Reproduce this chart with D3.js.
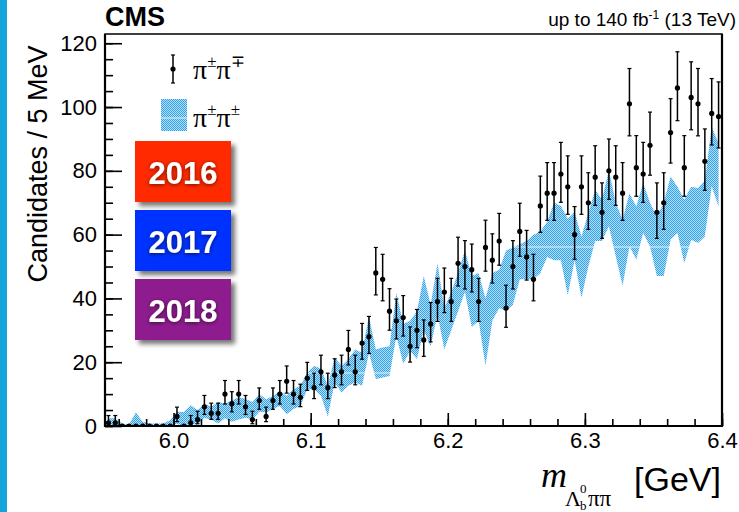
<!DOCTYPE html>
<html>
<head>
<meta charset="utf-8">
<script src="https://cdn.jsdelivr.net/npm/d3@7"></script>
<style>
  html, body { margin: 0; padding: 0; background: #fff; }
  svg { display: block; }
  .tick text { font-family: "Liberation Sans", Arial, Helvetica, sans-serif; font-size: 22px; fill: #000; }
</style>
</head>
<body>
<svg id="chart" width="739" height="512"></svg>
<script>
// histogram bins: 5 MeV wide from 5.95 to 6.40 GeV
const binStart = 5.95;
const binWidth = 0.005;

// opposite-sign (pi+- pi-+) candidates per bin
const countsOS = [
  1, 1, 0, 0, 0, 0, 0, 0, 0, 0,
  3, 0, 1, 2, 6, 4, 4, 10, 7, 10,
  6, 2, 8, 3, 8, 10, 14, 10, 9, 15,
  12, 17, 12, 16, 17, 24, 17, 26, 28, 48,
  46, 36, 33, 34, 25, 30, 27, 32, 39, 42,
  39, 51, 50, 49, 39, 56, 52, 58, 37, 50,
  61, 53, 46, 69, 73, 73, 79, 75, 60, 75,
  70, 78, 67, 80, 78, 73, 101, 81, 79, 88,
  67, 70, 92, 106, 81, 103, 101, 83, 98, 97
];

// same-sign (pi+- pi+-) band, upper and lower edge per bin
const bandUpper = [
  2.4, 2.4, 0.8, 0.5, 4.2, 1.3, 0.8, 0.8, 0.8, 1.9,
  4.5, 4.4, 6.5, 5, 7, 6, 7.5, 7, 8, 9,
  8.5, 7.5, 10, 8.4, 9.4, 11, 9.4, 11.5, 12.6, 16.7,
  18.8, 18, 12.6, 21.5, 18.8, 21, 24, 23, 34.5, 24,
  24.6, 25, 41.8, 32, 33, 36, 47, 38, 51, 37,
  42, 48, 55, 47, 48, 40, 48, 49, 55, 56,
  57, 58, 60, 61, 64, 70, 69, 65, 67, 59.4,
  66.8, 74, 71, 80.3, 70, 64.7, 73, 68.8, 76.2, 70,
  65.8, 70, 78.2, 75, 71, 75, 74.6, 77, 93.8, 88.6
];
const bandLower = [
  0, 0, 0, 0, 0, 0, 0, 0, 0, 0,
  0.6, 0, 0.8, 0.3, 2.5, 2, 0.8, 2.4, 1.3, 2,
  2.6, 2, 4.5, 4.2, 5.3, 6.3, 3.7, 5.3, 6.3, 11.5,
  11.5, 9.5, 3, 13.6, 10.5, 12.6, 13.6, 12.6, 23, 14.7,
  15.2, 15.7, 28.2, 19.5, 23.5, 21, 30, 25, 35, 24,
  30, 36, 42, 31, 33, 19, 33, 37, 36, 38,
  46, 46, 46, 48, 53, 52, 52, 41, 52, 40.2,
  50, 58, 58, 62.6, 53.2, 44, 56.3, 52.2, 60.5, 56.3,
  47, 47, 58.4, 60.5, 51.1, 58.4, 57.4, 59.5, 75.2, 68.8
];

const xMajorTicks = [6.0, 6.1, 6.2, 6.3, 6.4];
const yMajorTicks = [0, 20, 40, 60, 80, 100, 120];
const years = ["2016", "2017", "2018"];
const yearColors = ["#ff2a00", "#0433ff", "#8f1f8f"];

const bins = countsOS.map((n, i) => ({
  m: binStart + (i + 0.5) * binWidth,
  n: n,
  hi: bandUpper[i],
  lo: bandLower[i]
}));

// asymmetric Poisson (Garwood) interval, Wilson-Hilferty approximation
const poissonLow = n => n === 0 ? 0 : n * Math.pow(1 - 1 / (9 * n) - 1 / (3 * Math.sqrt(n)), 3);
const poissonHigh = n => (n + 1) * Math.pow(1 - 1 / (9 * (n + 1)) + 1 / (3 * Math.sqrt(n + 1)), 3);

const svg = d3.select("#chart");
const plot = { left: 105, right: 722, top: 34, bottom: 426 };

const xScale = d3.scaleLinear().domain([5.95, 6.4]).range([plot.left, plot.right]);
const yScale = d3.scaleLinear().domain([0, 122.9]).range([plot.bottom, plot.top]);

const sans = '"Liberation Sans", Arial, Helvetica, sans-serif';
const serif = '"Liberation Serif", "Times New Roman", "DejaVu Serif", serif';

// side stripe
svg.append("rect").attr("x", 0).attr("y", 0).attr("width", 7).attr("height", 512).attr("fill", "#12a4da");

const defs = svg.append("defs");
const pat = defs.append("pattern")
  .attr("id", "bandFill").attr("width", 2).attr("height", 2)
  .attr("patternUnits", "userSpaceOnUse");
pat.append("rect").attr("width", 2).attr("height", 2).attr("fill", "#b3dff9");
pat.append("rect").attr("x", 0).attr("y", 0).attr("width", 1).attr("height", 1).attr("fill", "#34a2ea");
pat.append("rect").attr("x", 1).attr("y", 1).attr("width", 1).attr("height", 1).attr("fill", "#34a2ea");

defs.append("clipPath").attr("id", "plotClip")
  .append("rect")
  .attr("x", plot.left).attr("y", plot.top)
  .attr("width", plot.right - plot.left).attr("height", plot.bottom - plot.top);

const boxShadow = defs.append("filter").attr("id", "boxShadow")
  .attr("x", "-20%").attr("y", "-20%").attr("width", "150%").attr("height", "150%");
boxShadow.append("feDropShadow").attr("dx", 4).attr("dy", 4).attr("stdDeviation", 2.5)
  .attr("flood-color", "#000").attr("flood-opacity", 0.55);

const textShadow = defs.append("filter").attr("id", "textShadow")
  .attr("x", "-20%").attr("y", "-30%").attr("width", "140%").attr("height", "160%");
textShadow.append("feDropShadow").attr("dx", 0).attr("dy", 1).attr("stdDeviation", 2)
  .attr("flood-color", "#000").attr("flood-opacity", 0.6);

// same-sign band
const bandArea = d3.area()
  .x(d => xScale(d.m))
  .y0(d => yScale(d.lo))
  .y1(d => yScale(d.hi));

defs.append("clipPath").attr("id", "bandClip")
  .append("path").attr("d", bandArea(bins));

const inner = svg.append("g").attr("clip-path", "url(#plotClip)");

inner.append("path")
  .datum(bins)
  .attr("d", bandArea)
  .attr("fill", "url(#bandFill)");

// faint white seams inside the band
inner.append("g").attr("clip-path", "url(#bandClip)")
  .selectAll("line")
  .data([247, 373])
  .join("line")
    .attr("x1", plot.left).attr("x2", plot.right)
    .attr("y1", d => d).attr("y2", d => d)
    .attr("stroke", "#fff").attr("stroke-width", 1).attr("opacity", 0.8);

// opposite-sign points with error bars
const pts = inner.append("g").selectAll("g")
  .data(bins)
  .join("g");

pts.filter(d => d.n > 0).each(function (d) {
  const g = d3.select(this);
  const cx = xScale(d.m);
  const yHi = yScale(poissonHigh(d.n));
  const yLo = yScale(poissonLow(d.n));
  g.append("line").attr("x1", cx).attr("x2", cx).attr("y1", yHi).attr("y2", yLo)
    .attr("stroke", "#000").attr("stroke-width", 1.5);
  [yHi, yLo].forEach(yy => {
    g.append("line").attr("x1", cx - 2).attr("x2", cx + 2).attr("y1", yy).attr("y2", yy)
      .attr("stroke", "#000").attr("stroke-width", 1.2);
  });
});

pts.append("circle")
  .attr("cx", d => xScale(d.m))
  .attr("cy", d => yScale(d.n))
  .attr("r", 2.6)
  .attr("fill", "#000");

// axes (ticks pointing inward)
const gx = svg.append("g").attr("transform", `translate(0,${plot.bottom})`);
gx.call(d3.axisBottom(xScale)
  .tickValues(d3.range(5.96, 6.401, 0.02))
  .tickSize(-7).tickFormat(""));
gx.call(g => g.select(".domain").remove());
const gx2 = svg.append("g").attr("transform", `translate(0,${plot.bottom})`);
gx2.call(d3.axisBottom(xScale)
  .tickValues(xMajorTicks)
  .tickSize(-13).tickPadding(6)
  .tickFormat(d3.format(".1f")));
gx2.select(".domain").remove();

const gy = svg.append("g").attr("transform", `translate(${plot.left},0)`);
gy.call(d3.axisLeft(yScale)
  .tickValues(d3.range(0, 121, 5))
  .tickSize(-8).tickFormat(""));
gy.select(".domain").remove();
const gy2 = svg.append("g").attr("transform", `translate(${plot.left},0)`);
gy2.call(d3.axisLeft(yScale)
  .tickValues(yMajorTicks)
  .tickSize(-17).tickPadding(8));
gy2.select(".domain").remove();

svg.selectAll(".tick line").attr("stroke", "#000").attr("stroke-width", 1.6);

// frame
svg.append("rect")
  .attr("x", plot.left).attr("y", plot.top)
  .attr("width", plot.right - plot.left).attr("height", plot.bottom - plot.top)
  .attr("fill", "none").attr("stroke", "#000").attr("stroke-width", 1.5);
svg.append("path")
  .attr("d", `M${plot.left},${plot.top}V${plot.bottom}H${plot.right}V${plot.top}`)
  .attr("fill", "none").attr("stroke", "#000").attr("stroke-width", 2.2);

// titles
svg.append("text")
  .attr("transform", "translate(47,164) rotate(-90)")
  .attr("text-anchor", "middle")
  .style("font-family", sans).style("font-size", "27px")
  .text("Candidates / 5 MeV");

svg.append("text")
  .attr("x", 105).attr("y", 26)
  .style("font-family", sans).style("font-size", "27px").style("font-weight", "bold")
  .text("CMS");

const lumi = svg.append("text")
  .attr("x", 736).attr("y", 26).attr("text-anchor", "end")
  .style("font-family", sans).style("font-size", "19px");
lumi.append("tspan").text("up to 140 fb");
lumi.append("tspan").attr("dy", -7).style("font-size", "12px").text("-1");
lumi.append("tspan").attr("dy", 7).text(" (13 TeV)");

// x title: m_{Lambda_b^0 pi pi} [GeV]
svg.append("text")
  .attr("x", 541).attr("y", 487)
  .style("font-family", serif).style("font-size", "36px").style("font-style", "italic")
  .text("m");
svg.append("text")
  .attr("x", 565).attr("y", 506)
  .style("font-family", serif).style("font-size", "22px")
  .text("Λ");
svg.append("text")
  .attr("x", 580).attr("y", 493)
  .style("font-family", serif).style("font-size", "13px")
  .text("0");
svg.append("text")
  .attr("x", 580).attr("y", 510)
  .style("font-family", serif).style("font-size", "13px")
  .text("b");
svg.append("text")
  .attr("x", 588).attr("y", 506)
  .style("font-family", serif).style("font-size", "23px")
  .text("ππ");
svg.append("text")
  .attr("x", 721).attr("y", 491).attr("text-anchor", "end")
  .style("font-family", sans).style("font-size", "34px")
  .text("[GeV]");

// legend
const leg = svg.append("g");
leg.append("line").attr("x1", 173).attr("x2", 173).attr("y1", 55).attr("y2", 83)
  .attr("stroke", "#000").attr("stroke-width", 1.5);
[55, 83].forEach(yy => leg.append("line")
  .attr("x1", 171).attr("x2", 175).attr("y1", yy).attr("y2", yy)
  .attr("stroke", "#000").attr("stroke-width", 1.2));
leg.append("circle").attr("cx", 173).attr("cy", 69).attr("r", 2.6).attr("fill", "#000");

leg.append("rect").attr("x", 161).attr("y", 99).attr("width", 26).attr("height", 32)
  .attr("fill", "url(#bandFill)");
leg.append("line").attr("x1", 161).attr("x2", 187).attr("y1", 118).attr("y2", 118)
  .attr("stroke", "#fff").attr("stroke-width", 1).attr("opacity", 0.8);

const legendLabels = [
  { y: 79, s1: "±", s2: "∓" },
  { y: 127, s1: "±", s2: "±" }
];
legendLabels.forEach(l => {
  const t = leg.append("text")
    .attr("x", 193).attr("y", l.y)
    .style("font-family", serif).style("font-size", "28px");
  t.append("tspan").text("π");
  t.append("tspan").attr("dy", -12).style("font-size", "17px").text(l.s1);
  t.append("tspan").attr("dy", 12).text("π");
  t.append("tspan").attr("dy", -12).style("font-size", "17px").text(l.s2);
});

// year badges
const badge = svg.append("g").selectAll("g")
  .data(years)
  .join("g")
    .attr("transform", (d, i) => `translate(135,${141 + i * 69})`);

badge.append("rect")
  .attr("width", 96).attr("height", 61)
  .attr("fill", (d, i) => yearColors[i])
  .attr("filter", "url(#boxShadow)");

badge.append("text")
  .attr("x", 48).attr("y", 43)
  .attr("text-anchor", "middle")
  .attr("fill", "#fff")
  .attr("filter", "url(#textShadow)")
  .style("font-family", sans).style("font-size", "31px").style("font-weight", "bold")
  .text(d => d);
</script>
</body>
</html>
